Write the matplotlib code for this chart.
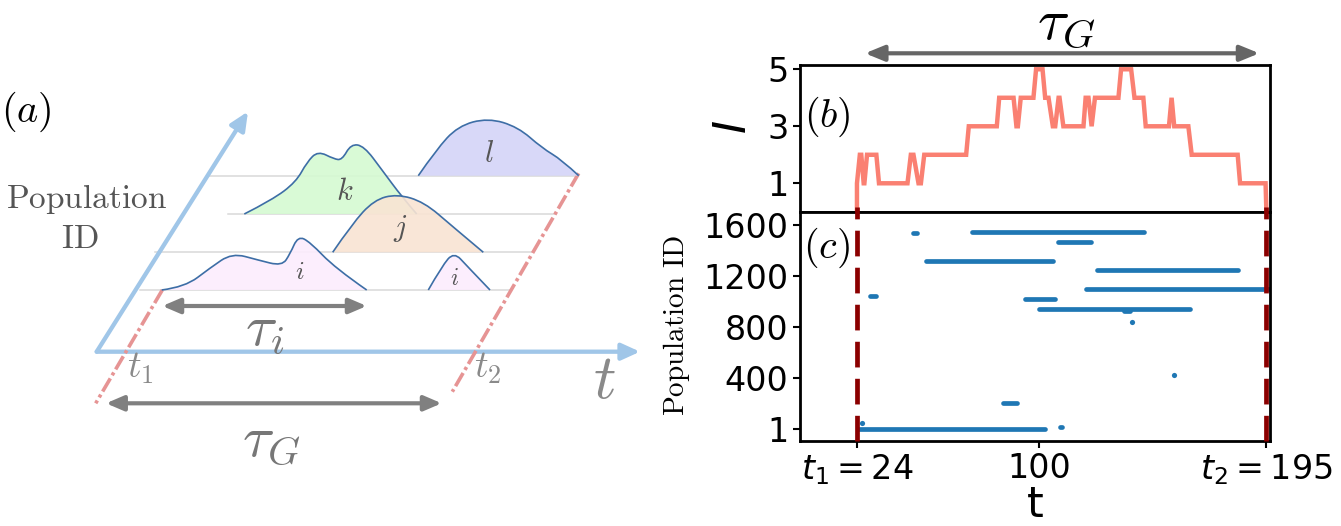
import matplotlib
matplotlib.use('Agg')
import matplotlib.pyplot as plt
import numpy as np
from matplotlib.path import Path
from matplotlib.patches import PathPatch, FancyArrowPatch

plt.rcParams['mathtext.fontset'] = 'cm'

# ---------------- data ----------------
# (b) number of coexisting populations I(t): vertices of the curve
t_I = [24, 24, 25.2, 25.8, 26.8, 27.1, 28.2, 32.1, 33.2, 45.1, 46.5, 47.6, 49.7, 50.7, 52.1,
       69.6, 70.7, 82.4, 83.4, 89.4, 90.6, 91.2, 92.4, 97.7, 98.8, 101.5, 102.6, 104.0, 105.8,
       106.8, 108.2, 108.6, 110.2, 118.6, 119.5, 120.7, 122.0, 123.4, 133.2, 134.3, 138.5,
       139.9, 143.6, 144.6, 154.3, 155.4, 156.5, 162.4, 163.8, 183.0, 184.0, 194.65, 195]
I_vals = [0, 1, 2, 2, 1, 1, 2, 2, 1, 1, 2, 2, 1, 1, 2,
          2, 3, 3, 4, 4, 3, 3, 4, 4, 5, 5, 4, 4, 3,
          3, 4, 4, 3, 3, 4, 4, 3, 4, 4, 5, 5,
          4, 4, 3, 3, 4, 3, 3, 2, 2, 1, 1, 0]

# (c) lifetime of each population (start, end, id)
pop_id = [1548, 1536, 1465, 1319, 1250, 1101, 1044, 1018, 940, 924, 207, 1, 19]
seg_start = [72, 47.5, 108, 52.8, 124.4, 119.5, 29.4, 94, 100, 135.5, 85, 24.8, 109]
seg_end = [144, 49, 121.7, 105.7, 183.2, 197, 32, 106.7, 163.2, 138, 90.7, 102.5, 109.5]
dot_t = [139, 156.4, 26]
dot_id = [843, 422, 53]

t1, t2 = 24, 195
xticks = [24, 100, 195]
xticklabels = [r'$t_1=24$', '100', r'$t_2=195$']
yticks_b = [1, 3, 5]
yticks_c = [1, 400, 800, 1200, 1600]

# (a) schematic humps (sketch coordinates)
hump_i1_x = [161.7, 185, 210, 232, 258, 282, 290, 298, 310, 335, 366.7]
hump_i1_y = [290, 287, 268, 253, 260, 266, 254, 236, 242, 268, 290]
hump_i2_x = [428.3, 442, 454, 467, 490]
hump_i2_y = [290, 266, 252, 266, 290]
hump_j_x = [332.7, 352, 374, 397, 424, 452, 483.3]
hump_j_y = [252.3, 224, 200, 194, 202, 226, 252.3]
hump_k_x = [244.3, 272, 296, 307, 318, 334, 342, 351, 364, 382, 402, 416.7]
hump_k_y = [214, 200, 182, 162, 151, 159, 160, 144, 146, 170, 197, 214]
hump_l_x = [418.3, 436, 458, 488, 518, 542, 562, 578.7]
hump_l_y = [175.7, 150, 126, 118, 127, 148, 160, 175.7]
rows_y = [290, 252.3, 214, 175.7]
rows_x0 = [140, 155, 228, 208]
rows_x1 = [511, 533, 555, 577]

W, H = 1341, 526
fig = plt.figure(figsize=(W / 100, H / 100), dpi=100)

# ---------------- panel (a) ----------------
ax_a = fig.add_axes([0, 0, 670.5 / W, 1])
ax_a.set_xlim(0, 670.5)
ax_a.set_ylim(H, 0)
ax_a.axis('off')


def smooth(xs, ys):
    pts = list(zip(xs, ys))
    verts = [pts[0]]
    codes = [Path.MOVETO]
    for k in range(1, len(pts) - 2):
        mid = ((pts[k][0] + pts[k + 1][0]) / 2, (pts[k][1] + pts[k + 1][1]) / 2)
        verts += [pts[k], mid]
        codes += [Path.CURVE3, Path.CURVE3]
    verts += [pts[-2], pts[-1]]
    codes += [Path.CURVE3, Path.CURVE3]
    return verts, codes


edge_col = '#3d6ea6'
for y, x0, x1 in zip(rows_y, rows_x0, rows_x1):
    ax_a.plot([x0, x1], [y, y], color='#d9d9d9', lw=1.1, zorder=1)

humps = [(hump_i1_x, hump_i1_y, '#fcedfd'), (hump_i2_x, hump_i2_y, '#fcedfd'),
         (hump_k_x, hump_k_y, '#d5fad2'), (hump_j_x, hump_j_y, '#f9e4d3'),
         (hump_l_x, hump_l_y, '#d4d4f8')]
for n, (hx, hy, fc) in enumerate(humps):
    v, c = smooth(hx, hy)
    fill = Path(v + [v[0]], c + [Path.CLOSEPOLY])
    ax_a.add_patch(PathPatch(fill, facecolor=fc, edgecolor='none', alpha=0.9, zorder=2 + n))
    ax_a.add_patch(PathPatch(Path(v, c), facecolor='none', edgecolor=edge_col, lw=1.2, zorder=2 + n))

for txt, x, y, fs in [('i', 300, 272, 18), ('i', 454, 278, 17), ('j', 400.7, 229, 22),
                      ('k', 345, 191, 22), ('l', 489.3, 154, 22)]:
    ax_a.text(x, y, '$%s$' % txt, fontsize=fs, color='#555555', ha='center', va='center', zorder=10)

blue = '#a0c6e8'
for a, b in [((96.7, 351.7), (640, 351.7)), ((96.7, 351.7), (248, 111.5))]:
    ax_a.add_patch(FancyArrowPatch(a, b, arrowstyle='-|>,head_length=11,head_width=5',
                                   mutation_scale=1, lw=3.1, color=blue,
                                   shrinkA=0, shrinkB=0, zorder=1))

red_dd = (0, (4.2, 1.0, 0.9, 1.0))
ax_a.plot([162.3, 95.7], [290, 403.3], color='#e69494', lw=2.6, ls=red_dd, zorder=1)
ax_a.plot([578.7, 452.3], [173.3, 391.7], color='#e69494', lw=2.6, ls=red_dd, zorder=1)

grey = '#808080'
for a, b in [((162.3, 306), (366.7, 306)), ((106, 403.3), (441.7, 403.3))]:
    ax_a.add_patch(FancyArrowPatch(a, b, arrowstyle='<|-|>,head_length=10.5,head_width=4.5',
                                   mutation_scale=1, lw=3, color=grey,
                                   shrinkA=0, shrinkB=0, zorder=1))

ax_a.text(265, 329, r'$\tau_i$', fontsize=42, color='#777777', ha='center', va='center')
ax_a.text(271.7, 440, r'$\tau_G$', fontsize=42, color='#777777', ha='center', va='center')
ax_a.text(140, 368, r'$t_1$', fontsize=27, color='#8a8a8a', ha='center', va='center')
ax_a.text(487.5, 368, r'$t_2$', fontsize=27, color='#8a8a8a', ha='center', va='center')
ax_a.text(604, 381, r'$t$', fontsize=45, color='#8a8a8a', ha='center', va='center')
ax_a.text(26, 112, r'$(a)$', fontsize=29, color='black', ha='center', va='center')
ax_a.text(86.7, 199, r'$\mathrm{Population}$', fontsize=24, color='#555555', ha='center', va='center')
ax_a.text(80, 238, r'$\mathrm{ID}$', fontsize=24, color='#555555', ha='center', va='center')

# ---------------- panels (b) and (c) ----------------
L = 799.5 / W
Wd = 470.5 / W
ax_b = fig.add_axes([L, 1 - 211.5 / H, Wd, 146.5 / H])
ax_c = fig.add_axes([L, 1 - 441 / H, Wd, 229.5 / H], sharex=ax_b)

ax_b.plot(t_I, I_vals, color='salmon', lw=3.2, solid_joinstyle='miter', zorder=3)
ax_b.set_ylim(0.01, 5.15)
ax_b.set_yticks(yticks_b)
ax_b.tick_params(axis='x', which='both', bottom=False, labelbottom=False)

ax_c.hlines(pop_id, seg_start, seg_end, color='#1f77b4', lw=3.4, capstyle='round', zorder=2)
ax_c.scatter(dot_t, dot_id, s=14, color='#1f77b4', linewidths=0, zorder=2)
for tv in (t1, t2):
    ax_c.axvline(tv, ymin=0, ymax=1.02, color='#8b0000', lw=3.4, ls=(0, (5.44, 2.4)),
                 clip_on=False, zorder=4)
ax_c.set_xlim(0, 196.5)
ax_c.set_ylim(-91, 1706)
ax_c.set_yticks(yticks_c)
ax_c.set_xticks(xticks)
ax_c.set_xticklabels(xticklabels, math_fontfamily='dejavusans')

for ax in (ax_b, ax_c):
    for sp in ax.spines.values():
        sp.set_linewidth(2)
    ax.tick_params(labelsize=24, width=1.5, length=5, pad=3)

ax_b.set_ylabel('$I$', fontsize=32, math_fontfamily='dejavusans')
ax_b.yaxis.label.set_verticalalignment('center')
ax_b.yaxis.set_label_coords((734 - 799.5) / 470.5, (211.5 - 127) / 146.5)

ax_c.set_ylabel(r'$\mathrm{Population\ ID}$', fontsize=21)
ax_c.yaxis.label.set_verticalalignment('center')
ax_c.yaxis.set_label_coords((676 - 799.5) / 470.5, (441 - 325) / 229.5)

ax_c.set_xlabel('t', fontsize=31)
ax_c.xaxis.label.set_verticalalignment('center')
ax_c.xaxis.set_label_coords((1035 - 799.5) / 470.5, (441 - 505) / 229.5)

fig.text(827.7 / W, 1 - 116.7 / H, r'$(b)$', fontsize=29, ha='center', va='center')
fig.text(826.7 / W, 1 - 248 / H, r'$(c)$', fontsize=29, ha='center', va='center')

# tau_G arrow above (b)
fig.patches.append(FancyArrowPatch((865 / W, 1 - 53.3 / H), (1259.3 / W, 1 - 53.3 / H),
                                   transform=fig.transFigure,
                                   arrowstyle='<|-|>,head_length=11.5,head_width=4.7',
                                   mutation_scale=1, lw=3, color='#666666',
                                   shrinkA=0, shrinkB=0))
fig.text(1066.7 / W, 1 - 23 / H, r'$\tau_G$', fontsize=42, ha='center', va='center')

fig.savefig('out.png', dpi=100)
